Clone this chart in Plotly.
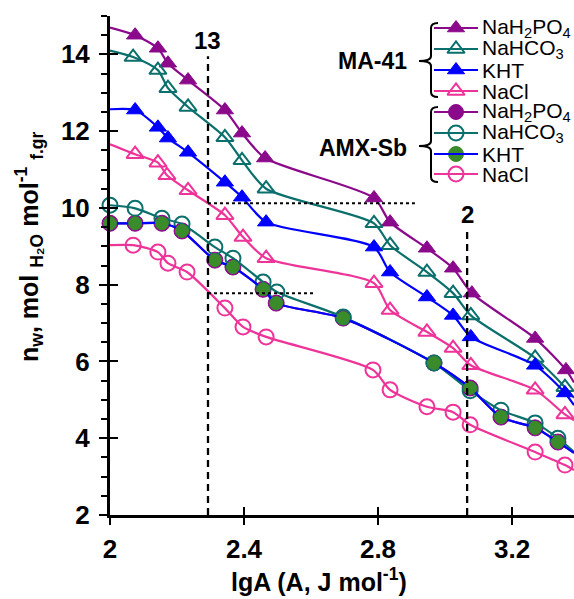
import plotly.graph_objects as go

# ---------------- data: n_w vs lgA ----------------
# MA-41 membrane
ma_phos_lgA = [2.075, 2.143, 2.173, 2.233, 2.343, 2.394, 2.463, 2.788, 2.836, 2.946, 3.024, 3.080, 3.269, 3.361]
ma_phos_nw = [14.50, 14.16, 13.77, 13.33, 12.55, 11.95, 11.30, 10.26, 9.63, 8.95, 8.43, 7.78, 6.60, 5.78]
ma_phos_ends = (14.70, 5.45)

ma_hco3_lgA = [2.069, 2.143, 2.173, 2.233, 2.343, 2.394, 2.466, 2.788, 2.836, 2.946, 3.024, 3.077, 3.269, 3.358]
ma_hco3_nw = [13.93, 13.59, 13.12, 12.63, 11.84, 11.24, 10.50, 9.60, 9.03, 8.33, 7.78, 7.20, 6.09, 5.33]
ma_hco3_ends = (14.10, 5.05)

ma_kht_lgA = [2.075, 2.143, 2.173, 2.233, 2.343, 2.394, 2.466, 2.788, 2.836, 2.946, 3.024, 3.077, 3.269, 3.358]
ma_kht_nw = [12.55, 12.10, 11.82, 11.45, 10.67, 10.28, 9.63, 8.98, 8.33, 7.68, 7.20, 6.64, 5.90, 5.18]
ma_kht_ends = (12.57, 4.86)

ma_nacl_lgA = [2.075, 2.143, 2.170, 2.233, 2.343, 2.397, 2.466, 2.788, 2.836, 2.946, 3.024, 3.077, 3.269, 3.358]
ma_nacl_nw = [11.40, 11.18, 10.85, 10.46, 9.81, 9.24, 8.69, 8.04, 7.34, 6.77, 6.35, 5.90, 5.26, 4.62]
ma_nacl_ends = (11.66, 4.47)

# AMX-Sb membrane
amx_phos_lgA = [2.000, 2.075, 2.155, 2.215, 2.313, 2.367, 2.457, 2.496, 2.696, 2.967, 3.075, 3.167, 3.269, 3.337]
amx_phos_nw = [9.60, 9.60, 9.60, 9.40, 8.64, 8.46, 7.88, 7.52, 7.13, 5.96, 5.31, 4.55, 4.27, 3.90]
amx_phos_ends = (None, 3.62)

amx_hco3_lgA = [2.000, 2.075, 2.155, 2.215, 2.313, 2.367, 2.457, 2.498, 2.696, 2.967, 3.075, 3.167, 3.269, 3.337]
amx_hco3_nw = [10.07, 9.99, 9.73, 9.58, 8.98, 8.69, 8.07, 7.81, 7.16, 5.96, 5.24, 4.73, 4.40, 4.00]
amx_hco3_ends = (None, 3.64)

amx_kht_lgA = [2.000, 2.075, 2.155, 2.215, 2.313, 2.367, 2.457, 2.496, 2.696, 2.967, 3.075, 3.167, 3.269, 3.337]
amx_kht_nw = [9.60, 9.60, 9.60, 9.40, 8.64, 8.46, 7.88, 7.52, 7.13, 5.96, 5.31, 4.55, 4.27, 3.90]
amx_kht_ends = (None, 3.62)

amx_nacl_lgA = [2.069, 2.143, 2.173, 2.230, 2.343, 2.397, 2.466, 2.785, 2.836, 2.946, 3.024, 3.075, 3.269, 3.358]
amx_nacl_nw = [9.03, 8.85, 8.56, 8.33, 7.39, 6.90, 6.64, 5.78, 5.26, 4.82, 4.68, 4.35, 3.64, 3.30]
amx_nacl_ends = (9.03, 3.17)

# reference lgA levels (dashed) with their labels and heights
ref_lgA = [2.2925, 3.066]
ref_labels = ["13", "2"]
ref_tops = [13.95, 9.43]
# dotted guide levels of n_w and where they stop
guide_nw = [10.12, 7.78]
guide_stop_lgA = [2.91, 2.606]

x_ticks = [2, 2.4, 2.8, 3.2]
y_ticks = [2, 4, 6, 8, 10, 12, 14]
X_RANGE = [2.0, 3.385]
Y_RANGE = [2.0, 15.0]

# ---------------- styling ----------------
FONT = "Liberation Sans"
PURPLE = "#8b0a8b"
TEAL = "#0b6f6c"
BLUE = "#0000ff"
PINK = "#ee3399"
GREEN = "#3a8c2a"

W, H = 574, 599
L, R, T, B = 110, 574, 16, 515


def px(x):
    return (x - L) / (R - L)


def py(y):
    return (B - y) / (B - T)


fig = go.Figure()


def add_series(xs, ys, ends, color, marker):
    lx, ly = list(xs), list(ys)
    if ends[0] is not None:
        lx = [X_RANGE[0]] + lx
        ly = [ends[0]] + ly
    if ends[1] is not None:
        lx = lx + [X_RANGE[1]]
        ly = ly + [ends[1]]
    fig.add_trace(go.Scatter(x=lx, y=ly, mode="lines",
                             line=dict(color=color, width=2.2, shape="spline", smoothing=0.7),
                             hoverinfo="skip", showlegend=False))
    fig.add_trace(go.Scatter(x=xs, y=ys, mode="markers", marker=marker,
                             cliponaxis=False, showlegend=False))


tri_fill = lambda c: dict(symbol="triangle-up", size=15, color=c, line=dict(color=c, width=1))
tri_open = lambda c: dict(symbol="triangle-up-open", size=15, color=c, line=dict(color=c, width=2))
circ_open = lambda c: dict(symbol="circle-open", size=15, color=c, line=dict(color=c, width=2))

add_series(ma_phos_lgA, ma_phos_nw, ma_phos_ends, PURPLE, tri_fill(PURPLE))
add_series(ma_hco3_lgA, ma_hco3_nw, ma_hco3_ends, TEAL, tri_open(TEAL))
add_series(ma_kht_lgA, ma_kht_nw, ma_kht_ends, BLUE, tri_fill(BLUE))
add_series(ma_nacl_lgA, ma_nacl_nw, ma_nacl_ends, PINK, tri_open(PINK))
add_series(amx_phos_lgA, amx_phos_nw, amx_phos_ends, PURPLE,
           dict(symbol="circle", size=16, color=PURPLE, line=dict(color=PURPLE, width=1)))
add_series(amx_hco3_lgA, amx_hco3_nw, amx_hco3_ends, TEAL, circ_open(TEAL))
add_series(amx_kht_lgA, amx_kht_nw, amx_kht_ends, BLUE,
           dict(symbol="circle", size=13, color=GREEN, line=dict(color=GREEN, width=1)))
add_series(amx_nacl_lgA, amx_nacl_nw, amx_nacl_ends, PINK, circ_open(PINK))

# overlay axes carrying the inner halves of the major ticks
fig.add_trace(go.Scatter(x=[None], y=[None], xaxis="x2", yaxis="y2", showlegend=False))

shapes = []
annotations = []

# dashed reference lines with labels
for xv, lab, top in zip(ref_lgA, ref_labels, ref_tops):
    shapes.append(dict(type="line", xref="x", yref="y", x0=xv, x1=xv, y0=Y_RANGE[0], y1=top,
                       line=dict(color="black", width=2.3, dash="7px,5px")))
    annotations.append(dict(x=xv, y=top, xref="x", yref="y", yanchor="bottom", yshift=0,
                            text=f"<b>{lab}</b>", showarrow=False,
                            font=dict(family=FONT, size=24, color="black")))
# dotted guides
for yv, xe in zip(guide_nw, guide_stop_lgA):
    shapes.append(dict(type="line", xref="x", yref="y", x0=ref_lgA[0], x1=xe, y0=yv, y1=yv,
                       line=dict(color="black", width=2, dash="dot")))

# ---------------- custom legend ----------------
row_y = [28, 49, 70, 91, 112, 133, 154, 174]
leg_labels = ["NaH<sub>2</sub>PO<sub>4</sub>", "NaHCO<sub>3</sub>", "KHT", "NaCl"] * 2
leg_line_colors = [PURPLE, TEAL, BLUE, PINK, PURPLE, TEAL, BLUE, PINK]
leg_markers = [tri_fill(PURPLE), tri_open(TEAL), tri_fill(BLUE), tri_open(PINK),
               dict(symbol="circle", size=15, color=PURPLE, line=dict(color=PURPLE, width=1)),
               circ_open(TEAL),
               dict(symbol="circle", size=15, color=GREEN, line=dict(color=GREEN, width=1)),
               circ_open(PINK)]
for yy, lab, lc, mk in zip(row_y, leg_labels, leg_line_colors, leg_markers):
    shapes.append(dict(type="line", xref="paper", yref="paper", x0=px(434), x1=px(478),
                       y0=py(yy), y1=py(yy), line=dict(color=lc, width=2.2)))
    fig.add_trace(go.Scatter(x=[px(456)], y=[py(yy)], mode="markers", marker=mk,
                             xaxis="x3", yaxis="y3", cliponaxis=False, showlegend=False))
    annotations.append(dict(x=px(480), y=py(yy), xref="paper", yref="paper", xanchor="left",
                            yanchor="middle", text=lab, showarrow=False,
                            font=dict(family=FONT, size=21, color="black")))


def brace(top, bottom, mid):
    x_in, x_bar, x_tip = 438, 431, 419
    pts = [
        f"M {px(x_in)},{py(top)}",
        f"Q {px(x_bar)},{py(top)} {px(x_bar)},{py(top + 5)}",
        f"L {px(x_bar)},{py(mid - 5)}",
        f"Q {px(x_bar)},{py(mid)} {px(x_tip)},{py(mid)}",
        f"Q {px(x_bar)},{py(mid)} {px(x_bar)},{py(mid + 5)}",
        f"L {px(x_bar)},{py(bottom - 5)}",
        f"Q {px(x_bar)},{py(bottom)} {px(x_in)},{py(bottom)}",
    ]
    return dict(type="path", xref="paper", yref="paper", path=" ".join(pts),
                line=dict(color="black", width=2))


shapes.append(brace(23, 97, 61))
shapes.append(brace(107, 182, 146))
for txt, yy in [("MA-41", 61), ("AMX-Sb", 148)]:
    annotations.append(dict(x=px(409), y=py(yy), xref="paper", yref="paper", xanchor="right",
                            yanchor="middle", text=f"<b>{txt}</b>", showarrow=False,
                            font=dict(family=FONT, size=23, color="black")))

# axis titles
annotations.append(dict(x=px(319), y=py(580), xref="paper", yref="paper", xanchor="center",
                        yanchor="middle", showarrow=False,
                        text="<b>lgA (A, J mol<sup>-1</sup>)</b>",
                        font=dict(family=FONT, size=25, color="black")))
annotations.append(dict(x=px(29), y=py(247), xref="paper", yref="paper", xanchor="center",
                        yanchor="middle", showarrow=False, textangle=-90,
                        text="<b>n<sub>w</sub>, mol <sub>H₂O</sub> mol<sup>-1</sup> <sub>f.gr</sub></b>",
                        font=dict(family=FONT, size=25, color="black")))

tick_font = dict(family=FONT, size=26, color="black", weight="bold")

fig.update_layout(
    width=W, height=H,
    margin=dict(l=L, r=W - R, t=T, b=H - B),
    paper_bgcolor="white", plot_bgcolor="rgba(0,0,0,0)",
    showlegend=False,
    shapes=shapes, annotations=annotations,
    xaxis=dict(range=X_RANGE, tickvals=x_ticks, ticktext=[f"{v:g}" for v in x_ticks],
               ticks="outside", ticklen=7, tickwidth=2, tickcolor="black",
               showline=True, linewidth=3, linecolor="black", showgrid=False, zeroline=False,
               tickfont=tick_font, ticklabelstandoff=2),
    yaxis=dict(range=Y_RANGE, tickvals=y_ticks, ticks="outside", ticklen=8, tickwidth=2,
               tickcolor="black", showline=True, linewidth=3, linecolor="black",
               showgrid=False, zeroline=False, tickfont=tick_font, ticklabelstandoff=4,
               minor=dict(dtick=0.5, ticks="outside", ticklen=6, tickwidth=2,
                          tickcolor="black", showgrid=False)),
    xaxis2=dict(range=X_RANGE, overlaying="x", anchor="y2", tickvals=x_ticks[1:],
                ticks="inside", ticklen=8, tickwidth=2, tickcolor="black",
                showticklabels=False, showline=False, showgrid=False, zeroline=False),
    yaxis2=dict(range=Y_RANGE, overlaying="y", anchor="x2", tickvals=y_ticks[1:],
                ticks="inside", ticklen=8, tickwidth=2, tickcolor="black",
                showticklabels=False, showline=False, showgrid=False, zeroline=False),
    xaxis3=dict(domain=[0, 1], range=[0, 1], anchor="y3", visible=False),
    yaxis3=dict(domain=[0, 1], range=[0, 1], anchor="x3", visible=False),
)

fig.write_html("out.html")
